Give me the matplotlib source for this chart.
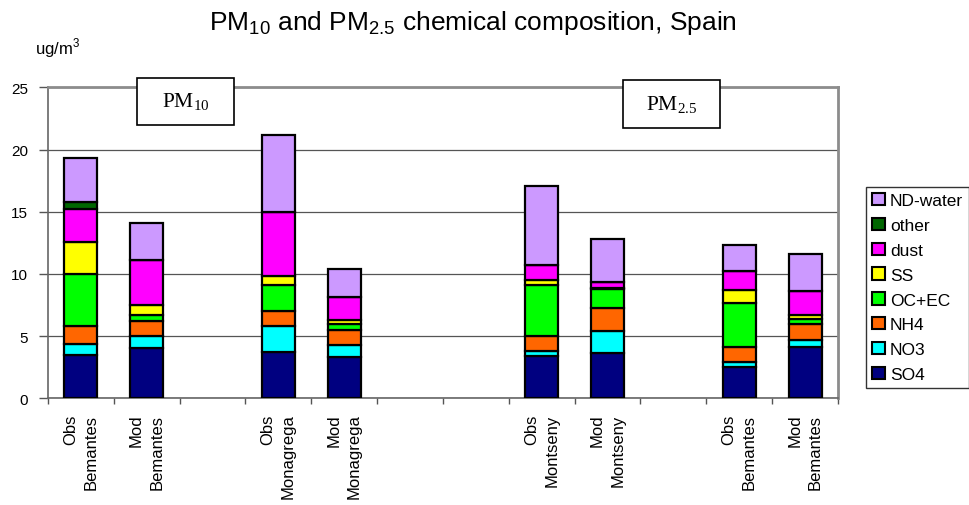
import numpy as np
import matplotlib
matplotlib.use("Agg")
import matplotlib.pyplot as plt
from matplotlib.patches import Patch, Rectangle

plt.rcParams['font.family'] = ['Liberation Sans', 'DejaVu Sans']

# Columns of the chart; empty strings are spacer columns between sites
categories = ["Obs\nBemantes", "Mod\nBemantes", "",
              "Obs\nMonagrega", "Mod\nMonagrega", "", "",
              "Obs\nMontseny", "Mod\nMontseny", "",
              "Obs\nBemantes", "Mod\nBemantes"]

# Components in stacking order (bottom -> top), ug/m3
components = ["SO4", "NO3", "NH4", "OC+EC", "SS", "dust", "other", "ND-water"]
so4   = [3.50, 4.07, 0, 3.75, 3.30, 0, 0, 3.43, 3.65, 0, 2.52, 4.10]
no3   = [0.90, 0.92, 0, 2.09, 1.00, 0, 0, 0.37, 1.74, 0, 0.43, 0.62]
nh4   = [1.40, 1.26, 0, 1.16, 1.23, 0, 0, 1.24, 1.90, 0, 1.18, 1.28]
ocec  = [4.20, 0.45, 0, 2.12, 0.43, 0, 0, 4.10, 1.48, 0, 3.56, 0.38]
ss    = [2.60, 0.83, 0, 0.69, 0.30, 0, 0, 0.35, 0.10, 0, 1.00, 0.32]
dust  = [2.60, 3.60, 0, 5.20, 1.87, 0, 0, 1.25, 0.50, 0, 1.55, 1.96]
other = [0.55, 0.00, 0, 0.00, 0.00, 0, 0, 0.00, 0.00, 0, 0.00, 0.00]
ndw   = [3.60, 2.95, 0, 6.18, 2.23, 0, 0, 6.35, 3.44, 0, 2.12, 2.95]

colors = ["#000080", "#00FFFF", "#FF6600", "#00FF00",
          "#FFFF00", "#FF00FF", "#006600", "#CC99FF"]

W, H = 970, 506
fig = plt.figure(figsize=(W / 100, H / 100), dpi=100)
ax = fig.add_axes([48 / W, 1 - 399.3 / H, (838 - 48) / W, (399.3 - 88.3) / H])

series = np.array([so4, no3, nh4, ocec, ss, dust, other, ndw])
x = np.arange(len(categories))
used = np.array([c != "" for c in categories])
bottom = np.zeros(len(categories))
for vals, col in zip(series, colors):
    ax.bar(x[used], vals[used], 0.5, bottom=bottom[used], color=col,
           edgecolor="black", linewidth=1.6, zorder=3)
    bottom += vals

ax.set_xlim(-0.5, len(categories) - 0.5)
ax.set_ylim(0, 25)
ax.set_yticks(np.arange(0, 26, 5))
ax.yaxis.grid(True, color="#555555", linewidth=0.9, zorder=0)
ax.tick_params(axis="y", labelsize=11, length=6.5, width=1, color="#555555", pad=8)

ax.set_xticks(x)
ax.set_xticklabels(categories, rotation=90, fontsize=12, ha="center", va="top",
                   multialignment="right", linespacing=1.45)
ax.set_xticks(np.arange(-0.5, len(categories), 1), minor=True)
ax.tick_params(axis="x", which="major", length=0, pad=11)
ax.tick_params(axis="x", which="minor", length=4, width=1, color="#555555")

for side in ["left", "bottom"]:
    ax.spines[side].set_color("#666666")
    ax.spines[side].set_linewidth(1.2)
for side in ["top", "right"]:
    ax.spines[side].set_color("#8c8c8c")
    ax.spines[side].set_linewidth(2)

fig.text(473 / W, 1 - 23 / H,
         r"PM$_{\mathregular{10}}$ and PM$_{\mathregular{2.5}}$ chemical composition, Spain",
         ha="center", va="center", fontsize=19)
fig.text(35 / W, 1 - 48 / H, r"ug/m$^{\mathregular{3}}$", ha="left", va="center", fontsize=12)

# size-fraction boxes
for (x0, y0, x1, y1), lab in [((137, 79, 234, 126), r"PM$_{\mathregular{10}}$"),
                               ((623, 81, 720, 129), r"PM$_{\mathregular{2.5}}$")]:
    fig.add_artist(Rectangle((x0 / W, 1 - y1 / H), (x1 - x0) / W, (y1 - y0) / H,
                             transform=fig.transFigure, facecolor="white",
                             edgecolor="black", linewidth=1.2, zorder=5))
    fig.text((x0 + x1) / 2 / W, 1 - (y0 + y1) / 2 / H, lab, ha="center", va="center",
             fontsize=15.5, family="Liberation Serif", zorder=6)

handles = [Patch(facecolor=c, edgecolor="black", linewidth=1.5, label=n)
           for n, c in zip(components, colors)][::-1]
leg = fig.legend(handles=handles, loc="upper left", bbox_to_anchor=(866 / W, 1 - 188 / H),
                 fontsize=12.5, frameon=True, fancybox=False, edgecolor="black",
                 handlelength=0.72, handleheight=0.72, handletextpad=0.3,
                 labelspacing=0.55, borderpad=0.35, borderaxespad=0)
leg.get_frame().set_linewidth(1.0)

fig.savefig("out.png", dpi=100)
